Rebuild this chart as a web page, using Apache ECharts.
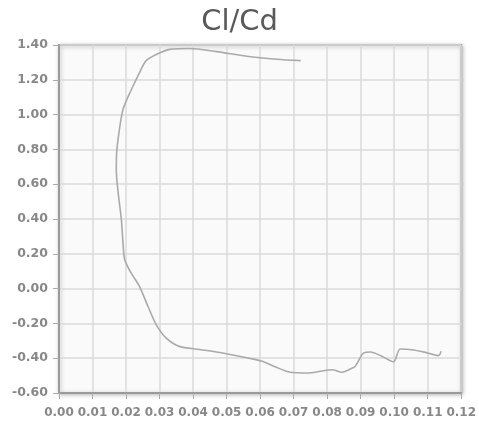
<!DOCTYPE html>
<html><head><meta charset="utf-8">
<script src="https://cdn.jsdelivr.net/npm/echarts@6/dist/echarts.min.js"></script>
<style>html,body{margin:0;padding:0;background:#fff}#c{width:479px;height:423px}</style>
</head><body><div id="c"></div>
<script>
var titleText = "Cl/Cd";
var cd = [0.0721,0.0650,0.0560,0.0470,0.0389,0.0330,0.0290,0.0260,0.0240,0.0215,0.0191,0.0176,0.0172,0.0171,0.0176,0.0186,0.0191,0.0196,0.0215,0.0240,0.0265,0.0290,0.0320,0.0359,0.0420,0.0488,0.0587,0.0607,0.0646,0.0686,0.0745,0.0780,0.0815,0.0844,0.0869,0.0884,0.0909,0.0929,0.0963,0.0998,0.1018,0.1052,0.1090,0.1132,0.1140];
var cl = [1.310,1.318,1.335,1.362,1.380,1.375,1.345,1.310,1.240,1.140,1.030,0.856,0.780,0.680,0.560,0.397,0.263,0.167,0.090,0.013,-0.100,-0.207,-0.285,-0.332,-0.350,-0.370,-0.408,-0.418,-0.450,-0.479,-0.485,-0.475,-0.466,-0.481,-0.462,-0.446,-0.370,-0.364,-0.389,-0.421,-0.347,-0.351,-0.365,-0.385,-0.360];
var xTicks = {min:0, max:0.12, step:0.01};
var yTicks = {min:-0.6, max:1.4, step:0.2};
var pts = cd.map(function(v,i){return [v, cl[i]];});
var chart = echarts.init(document.getElementById('c'), null, {renderer:'canvas'});
chart.setOption({
  animation:false,
  title:{text:titleText,left:'center',top:3,textStyle:{fontFamily:'DejaVu Sans',fontSize:29,fontWeight:'normal',color:'#5a5a5a'}},
  grid:{left:59,right:16,top:45,bottom:30,show:true,backgroundColor:'#fafafa',borderColor:'#9a9a9a',borderWidth:2,shadowColor:'rgba(0,0,0,0.25)',shadowBlur:4,shadowOffsetX:1,shadowOffsetY:1},
  xAxis:{type:'value',min:xTicks.min,max:xTicks.max,interval:xTicks.step,
    axisLine:{show:true,onZero:false,lineStyle:{color:'#9a9a9a',width:2}},
    axisTick:{show:true,length:6,lineStyle:{color:'#aaa'}},
    axisLabel:{color:'#888',fontFamily:'DejaVu Sans',fontWeight:'bold',fontSize:12,margin:14,hideOverlap:false,formatter:function(v){return v.toFixed(2);}},
    splitLine:{show:true,lineStyle:{color:'#dadada',width:1.5}}},
  yAxis:{type:'value',min:yTicks.min,max:yTicks.max,interval:yTicks.step,
    axisLine:{show:true,onZero:false,lineStyle:{color:'#9a9a9a',width:2}},
    axisTick:{show:true,length:6,lineStyle:{color:'#aaa'}},
    axisLabel:{color:'#888',fontFamily:'DejaVu Sans',fontWeight:'bold',fontSize:12.5,margin:11,formatter:function(v){return v.toFixed(2);}},
    splitLine:{show:true,lineStyle:{color:'#dadada',width:1.5}}},
  series:[{type:'line',data:pts,showSymbol:false,smooth:0.3,lineStyle:{color:'#aaaaaa',width:1.6}}]
});
</script></body></html>
